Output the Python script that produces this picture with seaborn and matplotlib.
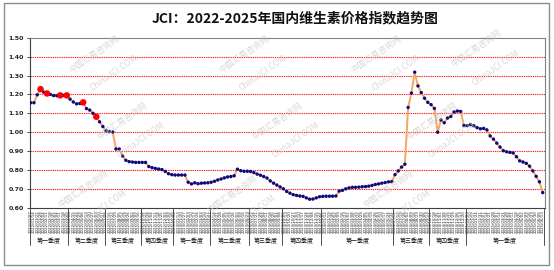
import numpy as np
import pandas as pd
import matplotlib
matplotlib.use("Agg")
import matplotlib.pyplot as plt
import seaborn as sns
from matplotlib.patches import Rectangle

# ---------------- data ----------------
title = "JCI：2022-2025年国内维生素价格指数趋势图"

values = [
    1.156, 1.156, 1.198, 1.228, 1.212, 1.205, 1.200, 1.194, 1.193, 1.195, 1.195,
    1.195, 1.175, 1.160, 1.150, 1.152, 1.158, 1.125, 1.117, 1.100, 1.082,
    1.055, 1.030, 1.008, 1.003, 1.001, 0.911, 0.911, 0.874, 0.851, 0.844,
    0.842, 0.840, 0.840, 0.840, 0.840, 0.818, 0.812, 0.808, 0.805, 0.802,
    0.792, 0.780, 0.775, 0.773, 0.773, 0.773, 0.773, 0.735, 0.726, 0.732,
    0.727, 0.730, 0.731, 0.732, 0.735, 0.740, 0.747, 0.752, 0.758, 0.763,
    0.765, 0.769, 0.804, 0.796, 0.793, 0.793, 0.792, 0.786, 0.778, 0.772,
    0.765, 0.757, 0.742, 0.730, 0.720, 0.710, 0.700, 0.686, 0.677, 0.669,
    0.665, 0.662, 0.660, 0.652, 0.645, 0.646, 0.652, 0.658, 0.660, 0.661,
    0.661, 0.661, 0.662, 0.688, 0.692, 0.700, 0.705, 0.708, 0.708, 0.709,
    0.711, 0.712, 0.714, 0.718, 0.723, 0.726, 0.730, 0.733, 0.737, 0.738,
    0.775, 0.795, 0.815, 0.830, 1.131, 1.207, 1.318, 1.245, 1.210, 1.180,
    1.158, 1.146, 1.126, 1.000, 1.065, 1.050, 1.075, 1.083, 1.107, 1.112,
    1.110, 1.035, 1.035, 1.040, 1.034, 1.024, 1.018, 1.020, 1.012, 0.980,
    0.963, 0.942, 0.921, 0.902, 0.896, 0.893, 0.890, 0.870, 0.848, 0.842,
    0.835, 0.820, 0.795, 0.766, 0.737, 0.680,
]
highlight_idx = [3, 5, 9, 11, 16, 20]

quarter_names = ["第一季度", "第二季度", "第三季度", "第四季度",
                 "第一季度", "第二季度", "第三季度", "第四季度",
                 "第一季度", "第三季度", "第四季度", "第一季度"]
quarter_sizes = [12, 11, 11, 10, 11, 12, 10, 12, 22, 11, 11, 24]
quarter_starts = ["2022-01-07", "2022-04-08", "2022-07-08", "2022-10-14",
                  "2023-01-06", "2023-04-07", "2023-07-07", "2023-10-06",
                  "2024-01-05", "2024-07-05", "2024-10-11", "2025-01-03"]

y_ticks = [0.60, 0.70, 0.80, 0.90, 1.00, 1.10, 1.20, 1.30, 1.40, 1.50]

watermark_cn = "中国汇易咨询网"
watermark_en = "ChinaJCI.COM"

# ---------------- build ----------------
date_labels = []
for s, n in zip(quarter_starts, quarter_sizes):
    date_labels += list(pd.date_range(s, periods=n, freq="7D").strftime("%Y/%m/%d"))

n = len(values)
df = pd.DataFrame({"idx": np.arange(n), "value": values, "date": date_labels})
df_hi = df.iloc[highlight_idx]

sns.set_style("white")
plt.rcParams["font.family"] = ["Noto Sans CJK SC", "DejaVu Sans"]

W, H = 554, 270
fig = plt.figure(figsize=(W / 100, H / 100), dpi=100)
fig.patch.set_facecolor("white")

# outer border
fig.add_artist(Rectangle((4 / W, 1 - 264.5 / H), 545 / W, 261.5 / H,
                         transform=fig.transFigure, fill=False,
                         edgecolor="#8c8c8c", linewidth=1.0))

left, right, top, bottom = 30, 545, 37.8, 207.7
ax = fig.add_axes([left / W, 1 - bottom / H, (right - left) / W, (bottom - top) / H])

# watermarks
wm_pos = [(0.17, 0.80), (0.44, 0.80), (0.68, 0.80), (0.86, 0.82),
          (0.22, 0.55), (0.50, 0.55), (0.78, 0.55),
          (0.15, 0.30), (0.42, 0.28), (0.70, 0.30)]
for (wx, wy) in wm_pos:
    fig.text(wx, wy, watermark_cn, rotation=35, fontsize=6, color="#c8c8c8",
             ha="center", va="center", alpha=0.7, zorder=0)
    fig.text(wx + 0.035, wy - 0.07, watermark_en, rotation=35, fontsize=6,
             color="#c8c8c8", ha="center", va="center", alpha=0.7, zorder=0)

# gridlines
for yv in y_ticks[1:-1]:
    ax.axhline(yv, color="#ff2020", linestyle=(0, (1.2, 0.8)), linewidth=0.8, zorder=1)

sns.lineplot(data=df, x="idx", y="value", ax=ax, color="#f7a560",
             linewidth=1.4, zorder=2)
sns.scatterplot(data=df, x="idx", y="value", ax=ax, color="#0a0a80",
                s=6, edgecolor="none", zorder=3)
sns.scatterplot(data=df_hi, x="idx", y="value", ax=ax, color="#ff0000",
                s=22, edgecolor="none", zorder=4)

ax.set_xlim(-0.2, n - 1 + 0.7)
ax.set_ylim(0.60, 1.50)
ax.set_yticks(y_ticks)
ax.set_yticklabels([f"{v:.2f}" for v in y_ticks], fontsize=4.5,
                   fontweight="bold", family=["DejaVu Sans"])
ax.set_xticks(df["idx"])
ax.set_xticklabels(df["date"], rotation=90, fontsize=2.9, family=["DejaVu Sans"])
ax.tick_params(axis="x", length=0, pad=1.5)
ax.tick_params(axis="y", length=2.5, width=0.6, pad=2, left=True)
ax.set_xlabel("")
ax.set_ylabel("")
for sp in ax.spines.values():
    sp.set_color("#808080")
    sp.set_linewidth(0.8)
ax.spines["left"].set_color("#404040")
ax.spines["bottom"].set_color("#404040")
ax.set_facecolor("none")

# quarter level labels and separators
xt = ax.get_xaxis_transform()
sep_bottom = -(245 - bottom) / (bottom - top)
lab_y = -(241 - bottom) / (bottom - top)
pos = -0.5
bounds = [-0.2]
for name, size in zip(quarter_names, quarter_sizes):
    start = pos
    pos += size
    end = min(pos, n - 1 + 0.7)
    bounds.append(end)
    ax.text((start + end) / 2, lab_y, name, transform=xt, ha="center",
            va="center", fontsize=4.3, color="#111111")
for b in bounds:
    ax.plot([b, b], [0, sep_bottom], transform=xt, color="#333333",
            linewidth=0.6, clip_on=False)

fig.text(0.532, 0.933, title, ha="center", va="center", fontsize=10,
         fontweight="bold", color="#111111")

fig.savefig("out.png", dpi=100)
